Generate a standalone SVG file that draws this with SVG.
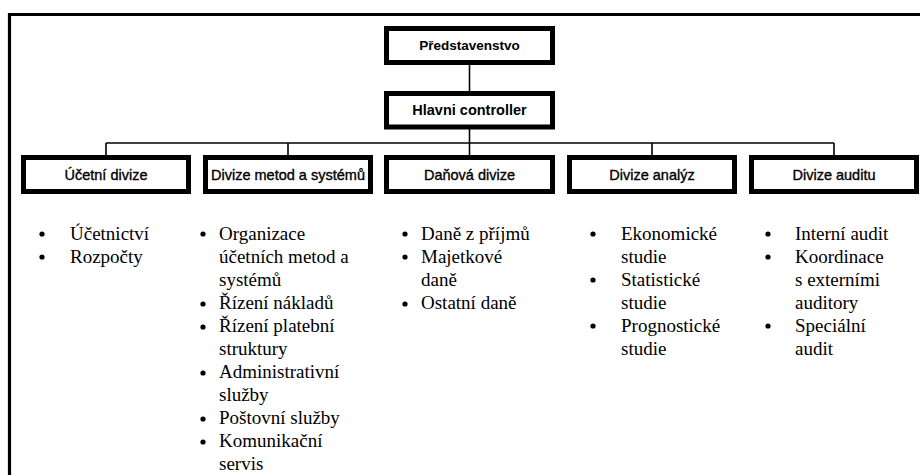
<svg xmlns="http://www.w3.org/2000/svg" width="920" height="475" viewBox="0 0 920 475">
<style>
.box{fill:#fff;stroke:#000;stroke-width:5}
.lbl{font-family:"Liberation Sans",Arial,sans-serif;font-weight:bold;font-size:13.5px;text-anchor:middle;fill:#000}
.div{font-family:"Liberation Sans",Arial,sans-serif;font-size:14.5px;text-anchor:middle;fill:#000;stroke:#000;stroke-width:0.35}
.item{font-family:"Liberation Serif","Times New Roman",serif;font-size:19px;fill:#000}
.con{stroke:#000;stroke-width:1.6;fill:none}
.frame{stroke:#000;stroke-width:3.2;fill:none}
</style>
<rect width="920" height="475" fill="#fff"/>
<path class="frame" d="M9.5,475 V14.5 H920"/>
<g id="connectors">
<path class="con" d="M469.5,65 V93"/>
<path class="con" d="M469.5,127 V157"/>
<path class="con" d="M106,143 H834"/>
<path class="con" d="M106,143 V157 M288,143 V157 M652,143 V157 M834,143 V157"/>
</g>
<g id="predstavenstvo">
<rect class="box" x="386.5" y="28.5" width="166" height="34"/>
<text class="lbl" x="469.5" y="50">Představenstvo</text>
</g>
<g id="hlavni-controller">
<rect class="box" x="386.5" y="93.5" width="166" height="33.5"/>
<text class="lbl" x="469.5" y="115" style="font-size:14.5px">Hlavni controller</text>
</g>
<g id="ucetni-divize">
<rect class="box" x="23.5" y="157.5" width="165" height="34"/>
<text class="div" x="106" y="179.5">Účetní divize</text>
</g>
<g id="divize-metod">
<rect class="box" x="205.5" y="157.5" width="165" height="34"/>
<text class="div" x="288" y="179.5">Divize metod a systémů</text>
</g>
<g id="danova-divize">
<rect class="box" x="386.5" y="157.5" width="166" height="34"/>
<text class="div" x="469.5" y="179.5">Daňová divize</text>
</g>
<g id="divize-analyz">
<rect class="box" x="569.5" y="157.5" width="165" height="34"/>
<text class="div" x="652" y="179.5">Divize analýz</text>
</g>
<g id="divize-auditu">
<rect class="box" x="751.5" y="157.5" width="165" height="34"/>
<text class="div" x="834" y="179.5">Divize auditu</text>
</g>
<g id="list-ucetni">
<circle cx="42" cy="234" r="2.6"/>
<circle cx="42" cy="257" r="2.6"/>
<text class="item" x="70" y="240">Účetnictví</text>
<text class="item" x="70" y="263">Rozpočty</text>
</g>
<g id="list-metod">
<circle cx="203" cy="234" r="2.6"/>
<circle cx="203" cy="304" r="2.6"/>
<circle cx="203" cy="327" r="2.6"/>
<circle cx="203" cy="373" r="2.6"/>
<circle cx="203" cy="419" r="2.6"/>
<circle cx="203" cy="442" r="2.6"/>
<text class="item" x="219" y="240">Organizace</text>
<text class="item" x="219" y="263">účetních metod a</text>
<text class="item" x="219" y="286">systémů</text>
<text class="item" x="219" y="309">Řízení nákladů</text>
<text class="item" x="219" y="332">Řízení platební</text>
<text class="item" x="219" y="355">struktury</text>
<text class="item" x="219" y="378">Administrativní</text>
<text class="item" x="219" y="401">služby</text>
<text class="item" x="219" y="424">Poštovní služby</text>
<text class="item" x="219" y="447">Komunikační</text>
<text class="item" x="219" y="470">servis</text>
</g>
<g id="list-dan">
<circle cx="405" cy="234" r="2.6"/>
<circle cx="405" cy="257" r="2.6"/>
<circle cx="405" cy="304" r="2.6"/>
<text class="item" x="421" y="240">Daně z příjmů</text>
<text class="item" x="421" y="263">Majetkové</text>
<text class="item" x="421" y="286">daně</text>
<text class="item" x="421" y="309">Ostatní daně</text>
</g>
<g id="list-analyz">
<circle cx="593" cy="234" r="2.6"/>
<circle cx="593" cy="280" r="2.6"/>
<circle cx="593" cy="326" r="2.6"/>
<text class="item" x="621" y="240">Ekonomické</text>
<text class="item" x="621" y="263">studie</text>
<text class="item" x="621" y="286">Statistické</text>
<text class="item" x="621" y="309">studie</text>
<text class="item" x="621" y="332">Prognostické</text>
<text class="item" x="621" y="355">studie</text>
</g>
<g id="list-auditu">
<circle cx="768" cy="234" r="2.6"/>
<circle cx="768" cy="257" r="2.6"/>
<circle cx="768" cy="326" r="2.6"/>
<text class="item" x="795" y="240">Interní audit</text>
<text class="item" x="795" y="263">Koordinace</text>
<text class="item" x="795" y="286">s externími</text>
<text class="item" x="795" y="309">auditory</text>
<text class="item" x="795" y="332">Speciální</text>
<text class="item" x="795" y="355">audit</text>
</g>
</svg>
